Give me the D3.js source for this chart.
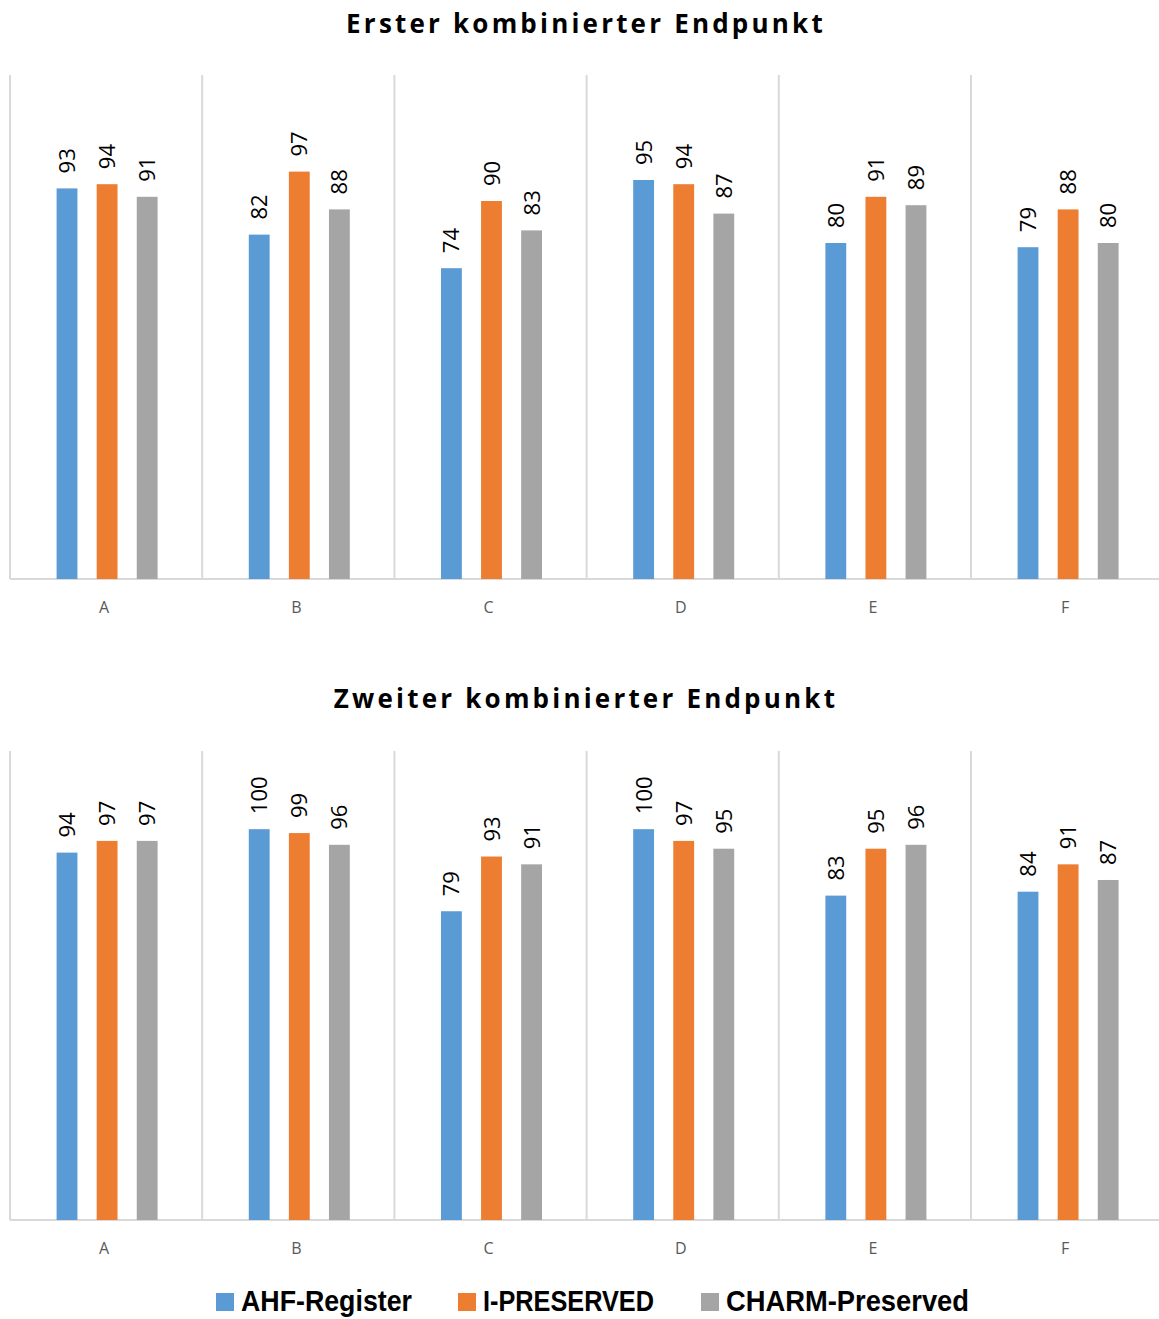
<!DOCTYPE html>
<html><head><meta charset="utf-8">
<script src="https://cdn.jsdelivr.net/npm/d3@7"></script>
<style>
html,body{margin:0;padding:0;background:#fff;overflow:hidden;}
</style></head>
<body>
<svg id="chart" width="1159" height="1319"></svg>
<script>
const categories = ["A","B","C","D","E","F"];
const seriesNames = ["AHF-Register","I-PRESERVED","CHARM-Preserved"];
const seriesColors = ["#5B9BD5","#ED7D31","#A5A5A5"];
const titles = ["Erster kombinierter Endpunkt","Zweiter kombinierter Endpunkt"];
// Chart 1
const ahf1 = [93,82,74,95,80,79];
const ipres1 = [94,97,90,94,91,88];
const charm1 = [91,88,83,87,89,80];
// Chart 2
const ahf2 = [94,100,79,100,83,84];
const ipres2 = [97,99,93,97,95,91];
const charm2 = [97,96,91,95,96,87];
const yMax = 120;

const svg = d3.select("#chart");
const panels = [
  {title: titles[0], data:[ahf1,ipres1,charm1], titleY:33, top:75, bottom:579},
  {title: titles[1], data:[ahf2,ipres2,charm2], titleY:708, top:751, bottom:1220}
];
const plotLeft = 10, plotRight = 10 + 6*192.2;

const x0 = d3.scaleBand().domain(categories).range([plotLeft, plotRight]).padding(0);
const x1 = d3.scaleBand().domain(seriesNames).range([1, x0.bandwidth() + 1])
  .paddingInner(0.48).paddingOuter(1.1375);

panels.forEach(p => {
  const y = d3.scaleLinear().domain([0, yMax]).range([p.bottom, p.top]);
  const g = svg.append("g");

  g.append("text").attr("x", 586).attr("y", p.titleY)
    .attr("text-anchor","middle")
    .style("font-family","'Open Sans', sans-serif").style("font-weight","700")
    .style("font-size","26px").style("letter-spacing","3.2px").attr("fill","#000")
    .text(p.title);

  // vertical gridlines at category boundaries
  const bounds = categories.map(c => x0(c)).concat([plotRight]);
  g.selectAll("line.grid").data(bounds).join("line")
    .attr("x1", d=>d).attr("x2", d=>d)
    .attr("y1", y(yMax)).attr("y2", y(0))
    .attr("stroke","#d9d9d9").attr("stroke-width",2);

  // x axis
  const ax = g.append("g").attr("transform",`translate(0,${y(0)})`)
    .call(d3.axisBottom(x0).tickSize(0).tickPadding(23));
  ax.select(".domain").attr("stroke","#d9d9d9").attr("stroke-width",2)
    .attr("d", `M${plotLeft},0H${plotRight}`);
  ax.selectAll("text").style("font-family","'Open Sans', sans-serif")
    .style("font-size","16px").attr("fill","#595959").attr("dx","-2");

  const rows = categories.map((c,i) => seriesNames.map((s,j) => ({c, s, j, v: p.data[j][i]}))).flat();

  g.selectAll("rect.bar").data(rows).join("rect")
    .attr("x", d => x0(d.c) + x1(d.s))
    .attr("width", x1.bandwidth())
    .attr("y", d => y(d.v))
    .attr("height", d => y(0) - y(d.v))
    .attr("fill", d => seriesColors[d.j]);

  g.selectAll("text.lbl").data(rows).join("text")
    .attr("transform", d => `translate(${x0(d.c) + x1(d.s) + x1.bandwidth()/2 + 8},${y(d.v) - 15}) rotate(-90)`)
    .attr("text-anchor","start")
    .style("font-family","'Open Sans', sans-serif").style("font-size","22px")
    .attr("fill","#000")
    .text(d => d.v);
});

// legend
const legendX = [216, 458, 701];
const legendW = [171, 171, 243];
const lg = svg.append("g");
seriesNames.forEach((s,i) => {
  lg.append("rect").attr("x", legendX[i]).attr("y", 1293).attr("width",18).attr("height",18)
    .attr("fill", seriesColors[i]);
  lg.append("text").attr("x", legendX[i] + 25).attr("y", 1311)
    .attr("textLength", legendW[i]).attr("lengthAdjust","spacingAndGlyphs")
    .style("font-family","'Liberation Sans', Arial, sans-serif")
    .style("font-weight","700").style("font-size","30px").attr("fill","#000")
    .text(s);
});
</script>
</body></html>
